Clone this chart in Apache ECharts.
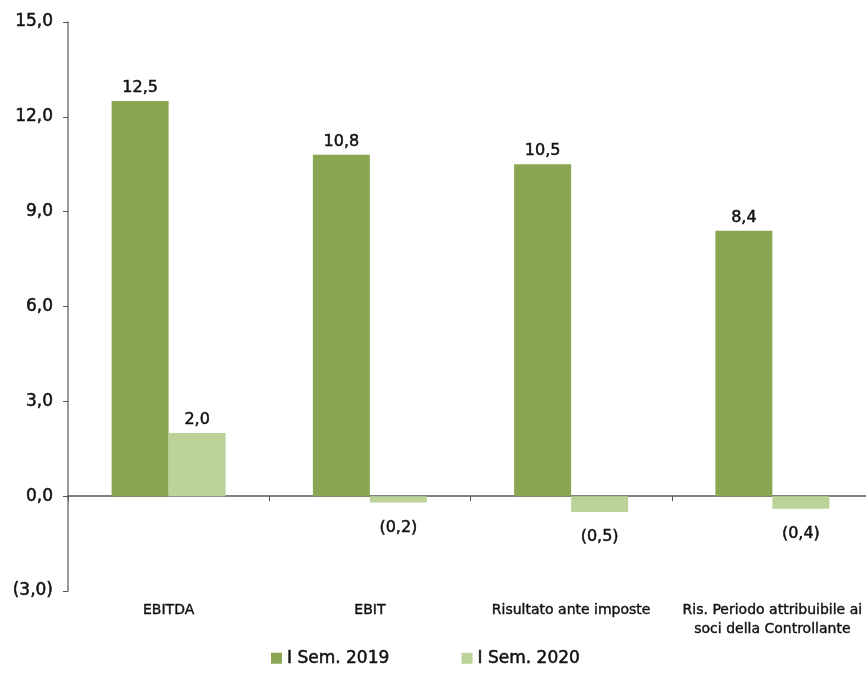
<!DOCTYPE html>
<html>
<head>
<meta charset="utf-8">
<script src="https://cdn.jsdelivr.net/npm/echarts@6/dist/echarts.min.js"></script>
<style>
  html, body { margin: 0; padding: 0; background: #fff; overflow: hidden; }
  #main { width: 873px; height: 675px; }
</style>
</head>
<body>
<div id="main"></div>
<script>
var categories = ['EBITDA', 'EBIT', 'Risultato ante imposte', 'Ris. Periodo attribuibile ai\nsoci della Controllante'];
var sem2019 = [12.5, 10.8, 10.5, 8.4];
var sem2020 = [2.0, -0.2, -0.5, -0.4];
var seriesNames = ['I Sem. 2019', 'I Sem. 2020'];

// formato italiano, negativi tra parentesi
function fmt(v) {
    var s = Math.abs(v).toFixed(1).replace('.', ',');
    return v < 0 ? '(' + s + ')' : s;
}

var font = 'DejaVu Sans';
var ink = '#111';

function barLabel() {
    return {
        show: true,
        position: 'top',
        distance: 5,
        color: ink,
        fontFamily: font,
        fontSize: 16,
        textBorderColor: ink,
        textBorderWidth: 0.5,
        formatter: function (p) { return fmt(p.value); }
    };
}

function toData(arr) {
    return arr.map(function (v) {
        if (v < 0) {
            return { value: v, label: { position: 'bottom', distance: 17 } };
        }
        return v;
    });
}

option = {
    color: ['#8ba652', '#bbd298'],
    legend: {
        bottom: 3,
        left: 266,
        itemWidth: 11,
        itemHeight: 11,
        itemGap: 72,
        icon: 'rect',
        textStyle: { fontFamily: font, fontSize: 17, color: ink, textBorderColor: ink, textBorderWidth: 0.5 },
        data: seriesNames
    },
    grid: {
        left: 68,
        right: 0,
        top: 22,
        bottom: 84
    },
    xAxis: [
        {
            type: 'category',
            data: categories,
            axisLine: { onZero: true, lineStyle: { color: '#555', width: 1.5 } },
            axisTick: { show: true, length: 5, lineStyle: { color: '#555' } },
            axisLabel: { show: false }
        },
        {
            type: 'category',
            data: categories,
            position: 'bottom',
            axisLine: { show: false },
            axisTick: { show: false },
            axisLabel: {
                margin: 10,
                interval: 0,
                color: ink,
                fontFamily: font,
                fontSize: 14,
                lineHeight: 19,
                textBorderColor: ink,
                textBorderWidth: 0.4
            }
        }
    ],
    yAxis: {
        type: 'value',
        min: -3,
        max: 15,
        interval: 3,
        splitLine: { show: false },
        axisLine: { show: true, lineStyle: { color: '#777', width: 1.5 } },
        axisTick: { show: true, length: 5, lineStyle: { color: '#555' } },
        axisLabel: {
            margin: 15,
            color: ink,
            fontFamily: font,
            fontSize: 17,
            textBorderColor: ink,
            textBorderWidth: 0.5,
            formatter: function (v) { return fmt(v); }
        }
    },
    series: [
        {
            name: seriesNames[0],
            type: 'bar',
            xAxisIndex: 0,
            barWidth: 57,
            barGap: '0%',
            label: barLabel(),
            data: toData(sem2019)
        },
        {
            name: seriesNames[1],
            type: 'bar',
            xAxisIndex: 0,
            barWidth: 57,
            barGap: '0%',
            label: barLabel(),
            data: toData(sem2020)
        }
    ]
};

var myChart = echarts.init(document.getElementById('main'));
myChart.setOption(option);
</script>
</body>
</html>
